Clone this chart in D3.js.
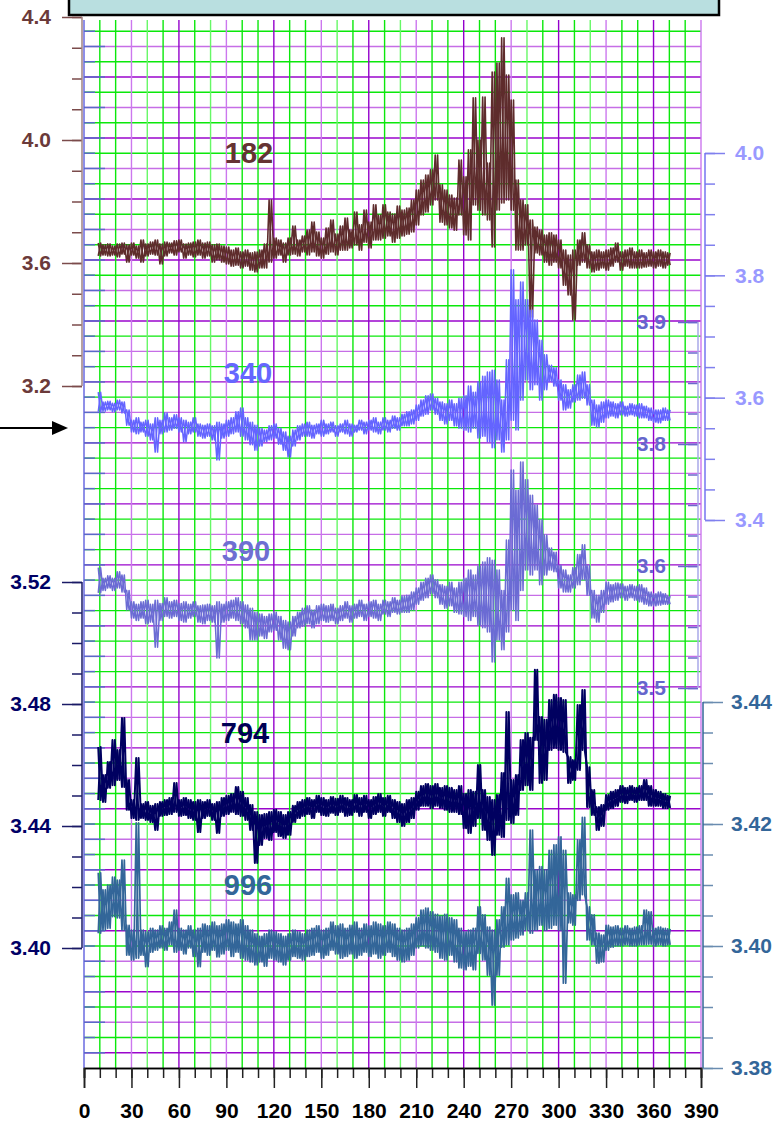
<!DOCTYPE html>
<html>
<head>
<meta charset="utf-8">
<script src="https://cdn.jsdelivr.net/npm/d3@7"></script>
<style>
body { margin: 0; background: #fff; }
text { font-family: "Liberation Sans", Arial, sans-serif; font-weight: bold; }
</style>
</head>
<body>
<div id="chart"></div>
<script>
// sample positions (every 3 units) shared by all five records
var xs = d3.range(9, 370, 3);

var brownHi = [3.665,3.659,3.662,3.655,3.662,3.665,3.659,3.665,3.655,3.675,
  3.662,3.668,3.675,3.662,3.668,3.665,3.672,3.675,3.662,3.665,
  3.668,3.675,3.665,3.668,3.659,3.662,3.655,3.652,3.642,3.649,
  3.636,3.642,3.633,3.636,3.642,3.662,3.805,3.681,3.675,3.665,
  3.681,3.720,3.675,3.688,3.707,3.733,3.701,3.681,3.714,3.740,
  3.694,3.720,3.746,3.707,3.766,3.724,3.772,3.733,3.789,3.756,
  3.789,3.766,3.759,3.785,3.772,3.779,3.805,3.837,3.870,3.886,
  3.903,3.951,3.854,3.837,3.821,3.811,3.935,3.880,3.968,4.137,
  4.000,4.140,3.925,4.221,4.250,4.332,4.211,4.130,3.870,3.805,
  3.789,3.740,3.717,3.707,3.691,3.698,3.691,3.675,3.642,3.626,
  3.642,3.675,3.698,3.659,3.636,3.642,3.636,3.642,3.649,3.665,
  3.636,3.642,3.649,3.636,3.642,3.633,3.642,3.636,3.642,3.636,3.633];
var brownLo = [3.623,3.626,3.623,3.626,3.620,3.629,3.603,3.626,3.616,3.603,
  3.623,3.629,3.626,3.597,3.623,3.633,3.626,3.636,3.616,3.626,
  3.620,3.626,3.616,3.623,3.603,3.610,3.603,3.597,3.590,3.593,
  3.584,3.590,3.577,3.571,3.584,3.584,3.603,3.616,3.626,3.603,
  3.626,3.629,3.623,3.636,3.626,3.636,3.623,3.616,3.629,3.636,
  3.626,3.642,3.642,3.649,3.659,3.642,3.668,3.649,3.675,3.675,
  3.681,3.688,3.668,3.681,3.688,3.694,3.701,3.724,3.756,3.766,
  3.789,3.805,3.733,3.724,3.714,3.707,3.756,3.691,3.675,3.789,
  3.772,3.756,3.740,3.652,3.772,3.795,3.805,3.772,3.642,3.642,
  3.659,3.424,3.633,3.626,3.603,3.593,3.603,3.584,3.528,3.496,
  3.415,3.593,3.603,3.584,3.571,3.577,3.584,3.577,3.590,3.603,
  3.577,3.590,3.584,3.584,3.584,3.587,3.590,3.584,3.590,3.584,3.593];

var s340Hi = [3.609,3.593,3.594,3.591,3.596,3.593,3.580,3.563,3.567,3.560,
  3.563,3.557,3.567,3.563,3.575,3.567,3.572,3.567,3.563,3.560,
  3.567,3.557,3.555,3.557,3.554,3.560,3.557,3.563,3.567,3.577,
  3.583,3.567,3.560,3.555,3.550,3.547,3.554,3.557,3.550,3.544,
  3.537,3.547,3.554,3.557,3.560,3.555,3.557,3.563,3.557,3.560,
  3.554,3.557,3.563,3.557,3.555,3.563,3.560,3.563,3.567,3.560,
  3.567,3.563,3.570,3.567,3.573,3.577,3.580,3.588,3.596,3.603,
  3.606,3.599,3.593,3.590,3.596,3.590,3.599,3.603,3.619,3.609,
  3.626,3.635,3.642,3.645,3.629,3.596,3.662,3.809,3.760,3.789,
  3.760,3.743,3.727,3.694,3.670,3.653,3.649,3.629,3.621,3.613,
  3.621,3.637,3.642,3.621,3.596,3.588,3.593,3.596,3.593,3.590,
  3.593,3.586,3.590,3.588,3.590,3.586,3.583,3.580,3.580,3.583,3.580];
var s340Lo = [3.577,3.578,3.580,3.577,3.580,3.575,3.555,3.544,3.541,3.544,
  3.537,3.531,3.511,3.541,3.544,3.547,3.550,3.544,3.528,3.541,
  3.544,3.537,3.534,3.537,3.531,3.498,3.534,3.537,3.541,3.544,
  3.537,3.531,3.523,3.514,3.521,3.528,3.531,3.534,3.524,3.514,
  3.503,3.521,3.531,3.537,3.537,3.534,3.541,3.537,3.541,3.544,
  3.537,3.544,3.541,3.537,3.544,3.547,3.541,3.547,3.544,3.541,
  3.547,3.544,3.550,3.547,3.554,3.554,3.557,3.563,3.570,3.573,
  3.580,3.573,3.563,3.557,3.563,3.554,3.550,3.547,3.544,3.550,
  3.534,3.537,3.528,3.518,3.531,3.511,3.531,3.563,3.547,3.596,
  3.629,3.613,3.621,3.596,3.613,3.626,3.619,3.596,3.580,3.583,
  3.593,3.596,3.599,3.588,3.555,3.552,3.560,3.567,3.570,3.567,
  3.572,3.570,3.572,3.570,3.567,3.567,3.563,3.560,3.559,3.563,3.563];

var s390Hi = [3.598,3.585,3.588,3.585,3.593,3.589,3.570,3.556,3.553,3.556,
  3.558,3.553,3.558,3.554,3.561,3.556,3.558,3.554,3.556,3.553,
  3.556,3.551,3.552,3.553,3.551,3.556,3.553,3.556,3.558,3.561,
  3.556,3.552,3.548,3.543,3.541,3.538,3.541,3.543,3.538,3.533,
  3.531,3.538,3.543,3.548,3.551,3.546,3.551,3.553,3.551,3.553,
  3.548,3.551,3.556,3.551,3.553,3.558,3.553,3.556,3.558,3.553,
  3.558,3.556,3.561,3.558,3.563,3.564,3.568,3.573,3.580,3.585,
  3.589,3.583,3.577,3.575,3.580,3.573,3.580,3.585,3.595,3.589,
  3.600,3.605,3.610,3.607,3.595,3.570,3.632,3.718,3.693,3.728,
  3.706,3.687,3.675,3.657,3.638,3.622,3.617,3.601,3.595,3.589,
  3.598,3.614,3.626,3.601,3.570,3.564,3.570,3.580,3.577,3.579,
  3.578,3.575,3.577,3.575,3.577,3.573,3.568,3.566,3.568,3.566,3.563];
var s390Lo = [3.567,3.570,3.573,3.570,3.573,3.568,3.546,3.536,3.533,3.536,
  3.529,3.531,3.500,3.533,3.538,3.536,3.538,3.533,3.531,3.536,
  3.538,3.531,3.529,3.533,3.531,3.487,3.531,3.533,3.536,3.533,
  3.529,3.524,3.509,3.509,3.514,3.511,3.519,3.521,3.509,3.499,
  3.497,3.514,3.524,3.526,3.529,3.524,3.529,3.533,3.531,3.533,
  3.529,3.533,3.536,3.531,3.536,3.538,3.533,3.538,3.536,3.533,
  3.541,3.538,3.543,3.541,3.543,3.543,3.546,3.553,3.558,3.561,
  3.566,3.561,3.553,3.548,3.551,3.543,3.541,3.538,3.533,3.538,
  3.527,3.524,3.519,3.482,3.509,3.497,3.519,3.546,3.533,3.570,
  3.595,3.589,3.595,3.577,3.589,3.595,3.593,3.573,3.568,3.568,
  3.573,3.577,3.583,3.564,3.536,3.531,3.543,3.553,3.556,3.558,
  3.561,3.558,3.561,3.558,3.556,3.553,3.551,3.551,3.552,3.553,3.553];

var s794Hi = [3.4659,3.4567,3.4610,3.4682,3.4649,3.4754,3.4551,3.4485,3.4623,3.4472,
  3.4479,3.4466,3.4472,3.4479,3.4485,3.4492,3.4541,3.4485,3.4492,3.4485,
  3.4479,3.4485,3.4479,3.4485,3.4472,3.4479,3.4492,3.4499,3.4505,3.4528,
  3.4512,3.4492,3.4469,3.4446,3.4436,3.4439,3.4446,3.4453,3.4446,3.4436,
  3.4446,3.4466,3.4479,3.4485,3.4492,3.4485,3.4499,3.4492,3.4485,3.4495,
  3.4489,3.4499,3.4492,3.4485,3.4502,3.4492,3.4499,3.4485,3.4495,3.4505,
  3.4492,3.4499,3.4485,3.4479,3.4472,3.4485,3.4492,3.4512,3.4531,3.4538,
  3.4531,3.4538,3.4525,3.4531,3.4525,3.4518,3.4531,3.4505,3.4518,3.4512,
  3.4600,3.4518,3.4495,3.4485,3.4502,3.4574,3.4774,3.4551,3.4567,3.4682,
  3.4705,3.4689,3.4912,3.4757,3.4748,3.4813,3.4830,3.4820,3.4813,3.4626,
  3.4616,3.4797,3.4846,3.4593,3.4518,3.4462,3.4469,3.4502,3.4512,3.4518,
  3.4531,3.4525,3.4531,3.4525,3.4531,3.4551,3.4531,3.4518,3.4512,3.4505,3.4499];
var s794Lo = [3.4485,3.4479,3.4525,3.4534,3.4551,3.4528,3.4453,3.4426,3.4420,3.4426,
  3.4420,3.4413,3.4387,3.4433,3.4436,3.4439,3.4446,3.4433,3.4436,3.4426,
  3.4420,3.4380,3.4426,3.4433,3.4420,3.4377,3.4433,3.4439,3.4446,3.4439,
  3.4433,3.4420,3.4387,3.4279,3.4338,3.4361,3.4354,3.4380,3.4367,3.4361,
  3.4371,3.4413,3.4426,3.4433,3.4439,3.4426,3.4446,3.4436,3.4433,3.4443,
  3.4436,3.4446,3.4433,3.4436,3.4446,3.4433,3.4446,3.4426,3.4439,3.4446,
  3.4433,3.4446,3.4426,3.4413,3.4400,3.4413,3.4426,3.4453,3.4466,3.4466,
  3.4459,3.4466,3.4459,3.4453,3.4446,3.4446,3.4439,3.4393,3.4377,3.4400,
  3.4426,3.4387,3.4354,3.4305,3.4371,3.4364,3.4420,3.4410,3.4436,3.4518,
  3.4534,3.4518,3.4682,3.4541,3.4551,3.4649,3.4656,3.4649,3.4643,3.4541,
  3.4551,3.4584,3.4649,3.4462,3.4436,3.4387,3.4400,3.4453,3.4459,3.4466,
  3.4479,3.4475,3.4485,3.4479,3.4485,3.4485,3.4466,3.4466,3.4466,3.4459,3.4459];

var s996Hi = [3.4120,3.4092,3.4100,3.4113,3.4108,3.4141,3.4034,3.4026,3.4202,3.4026,
  3.4023,3.4029,3.4026,3.4033,3.4029,3.4039,3.4059,3.4029,3.4026,3.4033,
  3.4026,3.4029,3.4036,3.4033,3.4039,3.4033,3.4036,3.4043,3.4039,3.4036,
  3.4043,3.4033,3.4026,3.4020,3.4016,3.4020,3.4026,3.4023,3.4020,3.4016,
  3.4020,3.4026,3.4023,3.4020,3.4026,3.4029,3.4033,3.4026,3.4029,3.4039,
  3.4033,3.4036,3.4029,3.4034,3.4039,3.4029,3.4036,3.4033,3.4039,3.4036,
  3.4033,3.4039,3.4036,3.4029,3.4026,3.4029,3.4036,3.4046,3.4059,3.4062,
  3.4056,3.4052,3.4049,3.4052,3.4046,3.4043,3.4029,3.4023,3.4026,3.4029,
  3.4064,3.4051,3.4031,3.4026,3.4043,3.4064,3.4111,3.4084,3.4087,3.4075,
  3.4087,3.4190,3.4125,3.4130,3.4125,3.4157,3.4166,3.4179,3.4157,3.4087,
  3.4084,3.4174,3.4211,3.4064,3.4051,3.4021,3.4018,3.4034,3.4031,3.4033,
  3.4029,3.4033,3.4029,3.4031,3.4033,3.4059,3.4056,3.4029,3.4031,3.4029,3.4028];
var s996Lo = [3.4021,3.4026,3.4029,3.4048,3.4046,3.4026,3.3985,3.3977,3.3980,3.3985,
  3.3966,3.3990,3.3993,3.3997,3.3993,3.4002,3.3990,3.3993,3.3987,3.3997,
  3.3983,3.3966,3.3990,3.3985,3.3993,3.3982,3.3987,3.3993,3.3983,3.3990,
  3.3980,3.3977,3.3974,3.3969,3.3974,3.3967,3.3980,3.3977,3.3974,3.3969,
  3.3977,3.3983,3.3980,3.3977,3.3983,3.3985,3.3990,3.3980,3.3985,3.3993,
  3.3987,3.3980,3.3983,3.3987,3.3980,3.3985,3.3990,3.3983,3.3987,3.3980,
  3.3985,3.3990,3.3983,3.3977,3.3974,3.3977,3.3985,3.3997,3.4000,3.3997,
  3.3993,3.3990,3.3980,3.3977,3.3985,3.3974,3.3964,3.3961,3.3967,3.3961,
  3.3988,3.3977,3.3952,3.3903,3.3952,3.3998,3.4002,3.4010,3.4013,3.4018,
  3.4026,3.4021,3.4026,3.4034,3.4026,3.4029,3.4034,3.4026,3.3939,3.4038,
  3.4034,3.4075,3.4084,3.4010,3.4002,3.3972,3.3974,3.3993,3.3998,3.4000,
  3.4000,3.4002,3.4000,3.4000,3.4002,3.4002,3.4003,3.4000,3.4002,3.4000,3.4002];

var xTickLabels = [0, 30, 60, 90, 120, 150, 180, 210, 240, 270, 300, 330, 360, 390];
var brownTickVals = [4.4, 4.0, 3.6, 3.2];
var s340TickVals = [4.0, 3.8, 3.6, 3.4];
var s390TickVals = [3.9, 3.75, 3.6, 3.45];
var s390TickText = ["3.9", "3.8", "3.6", "3.5"];
var s794TickVals = [3.52, 3.48, 3.44, 3.40];
var s996TickVals = [3.44, 3.42, 3.40, 3.38];

var W = 779, H = 1123;
var svg = d3.select("#chart").append("svg").attr("width", W).attr("height", H);

var x = d3.scaleLinear().domain([0, 390]).range([84, 701]);
var yBrown = d3.scaleLinear().domain([3.2, 4.4]).range([386, 17]);
var y340 = d3.scaleLinear().domain([3.4, 4.0]).range([520, 153]);
var y390 = d3.scaleLinear().domain([3.45, 3.9]).range([688, 322]);
var y794 = d3.scaleLinear().domain([3.40, 3.52]).range([948, 582]);
var y996 = d3.scaleLinear().domain([3.38, 3.44]).range([1068, 702]);
var gridY = d3.scaleLinear().domain([0, 69]).range([1068, 16]);

// header box, cut by the top of the page
svg.append("rect").attr("x", 69).attr("y", -12).attr("width", 650).attr("height", 27)
  .attr("fill", "#b9dfe0").attr("stroke", "#000").attr("stroke-width", 2.5);

// grid
var grid = svg.append("g");
d3.range(1, 69).forEach(function (k) {
  var c = k % 2 == 0 ? "#0be80b" : (k % 4 == 1 ? "#9a06cc" : "#c66ee6");
  grid.append("line").attr("x1", 84).attr("x2", 701)
    .attr("y1", gridY(k)).attr("y2", gridY(k))
    .attr("stroke", c).attr("stroke-width", 1.4);
});
d3.range(10, 400, 10).forEach(function (v) {
  var c;
  if (v % 30 == 0) c = (v / 30) % 2 == 1 ? "#cc77ee" : "#9400cc";
  else c = v % 40 == 0 ? "#66f866" : "#0be80b";
  grid.append("line").attr("x1", x(v)).attr("x2", x(v)).attr("y1", 20).attr("y2", 1068)
    .attr("stroke", c).attr("stroke-width", 1.4);
});
grid.append("line").attr("x1", x(0)).attr("x2", x(0)).attr("y1", 20).attr("y2", 1068)
  .attr("stroke", "#6a6ae0").attr("stroke-width", 1.5);
d3.range(1, 69).forEach(function (k) {
  grid.append("line").attr("x1", 84).attr("x2", k % 2 ? 105 : 95)
    .attr("y1", gridY(k)).attr("y2", gridY(k))
    .attr("stroke", "#5a6ac8").attr("stroke-width", 1.5);
});

// records: two crossing zigzags between the high and low readings make the dense band
function drawRecord(hi, lo, y, color, w) {
  var a = [], b = [];
  for (var i = 0; i < xs.length; i++) {
    a.push([x(xs[i]), y(hi[i])]);
    a.push([x(xs[i] + 1.5), y(lo[i])]);
    b.push([x(xs[i]), y(lo[i])]);
    b.push([x(xs[i] + 1.5), y(hi[i])]);
  }
  [a, b].forEach(function (pts) {
    svg.append("path").datum(pts)
      .attr("d", d3.line())
      .attr("fill", "none").attr("stroke", color)
      .attr("stroke-width", w).attr("stroke-linejoin", "round");
  });
}
drawRecord(brownHi, brownLo, yBrown, "#5e2c2c", 1.6);
drawRecord(s340Hi, s340Lo, y340, "#6464ff", 1.5);
drawRecord(s390Hi, s390Lo, y390, "#6b6bd4", 1.5);
drawRecord(s794Hi, s794Lo, y794, "#000060", 2);
drawRecord(s996Hi, s996Lo, y996, "#336699", 1.7);

// axes
function addAxis(scale, xPos, orient, step, majors, texts, lineColor, tickColor, textColor, pad) {
  var g = svg.append("g").attr("transform", "translate(" + xPos + ",0)");
  var mk = orient == "left" ? d3.axisLeft : d3.axisRight;
  var d = scale.domain();
  var minors = d3.range(0, Math.round((d[1] - d[0]) / step) + 1).map(function (i) { return d[0] + i * step; });
  g.append("g").call(mk(scale).tickValues(minors).tickSize(10).tickFormat(""));
  g.append("g").call(mk(scale).tickValues(majors).tickSize(20).tickPadding(pad)
    .tickFormat(function (v, i) { return texts[i]; }));
  g.selectAll(".domain").remove();
  g.selectAll("line").attr("stroke", tickColor).attr("stroke-width", 1.5);
  g.selectAll("text").attr("fill", textColor).style("font-size", "21px");
  g.append("line").attr("y1", scale.range()[0]).attr("y2", scale.range()[1])
    .attr("stroke", lineColor).attr("stroke-width", 1.5);
}
addAxis(yBrown, 82, "left", 0.1, brownTickVals, ["4.4", "4.0", "3.6", "3.2"], "#a08282", "#7b4b4b", "#6b3a3a", 11);
addAxis(y794, 82, "left", 0.01, s794TickVals, ["3.52", "3.48", "3.44", "3.40"], "#1a1a66", "#1a1a66", "#000066", 11);
addAxis(y340, 705, "right", 0.05, s340TickVals, ["4.0", "3.8", "3.6", "3.4"], "#7474f0", "#8080ee", "#9999ff", 10);
addAxis(y390, 698, "left", 0.0375, s390TickVals, s390TickText, "#a8a8e8", "#6a6acc", "#6666cc", 12);
addAxis(y996, 703, "right", 0.005, s996TickVals, ["3.44", "3.42", "3.40", "3.38"], "#336699", "#6a8cb0", "#336699", 8);

// x axis
var xg = svg.append("g").attr("transform", "translate(0,1068)");
xg.call(d3.axisBottom(x).tickValues(d3.range(0, 400, 10)).tickSize(10).tickFormat(""));
xg.append("g").call(d3.axisBottom(x).tickValues(xTickLabels).tickSize(20).tickPadding(15));
xg.selectAll(".domain").attr("stroke", "#000").attr("stroke-width", 1.5);
xg.selectAll("line").attr("stroke", "#222").attr("stroke-width", 1.5);
xg.selectAll("text").attr("fill", "#000").style("font-size", "21px");

// record labels
var recLabels = [
  { t: "182", x: 249, y: 163, c: "#663333" },
  { t: "340", x: 248, y: 383, c: "#6666ff" },
  { t: "390", x: 246, y: 561, c: "#6f6fd2" },
  { t: "794", x: 245, y: 743, c: "#000055" },
  { t: "996", x: 248, y: 895, c: "#336699" }
];
svg.selectAll(".reclabel").data(recLabels).enter().append("text")
  .attr("class", "reclabel")
  .attr("x", function (d) { return d.x; })
  .attr("y", function (d) { return d.y; })
  .attr("text-anchor", "middle")
  .attr("fill", function (d) { return d.c; })
  .style("font-size", "29px")
  .text(function (d) { return d.t; });

// arrow on the left
svg.append("line").attr("x1", 0).attr("x2", 55).attr("y1", 428).attr("y2", 428)
  .attr("stroke", "#000").attr("stroke-width", 2);
svg.append("path").attr("d", "M52,421 L68,428 L52,435 Z").attr("fill", "#000");
</script>
</body>
</html>
